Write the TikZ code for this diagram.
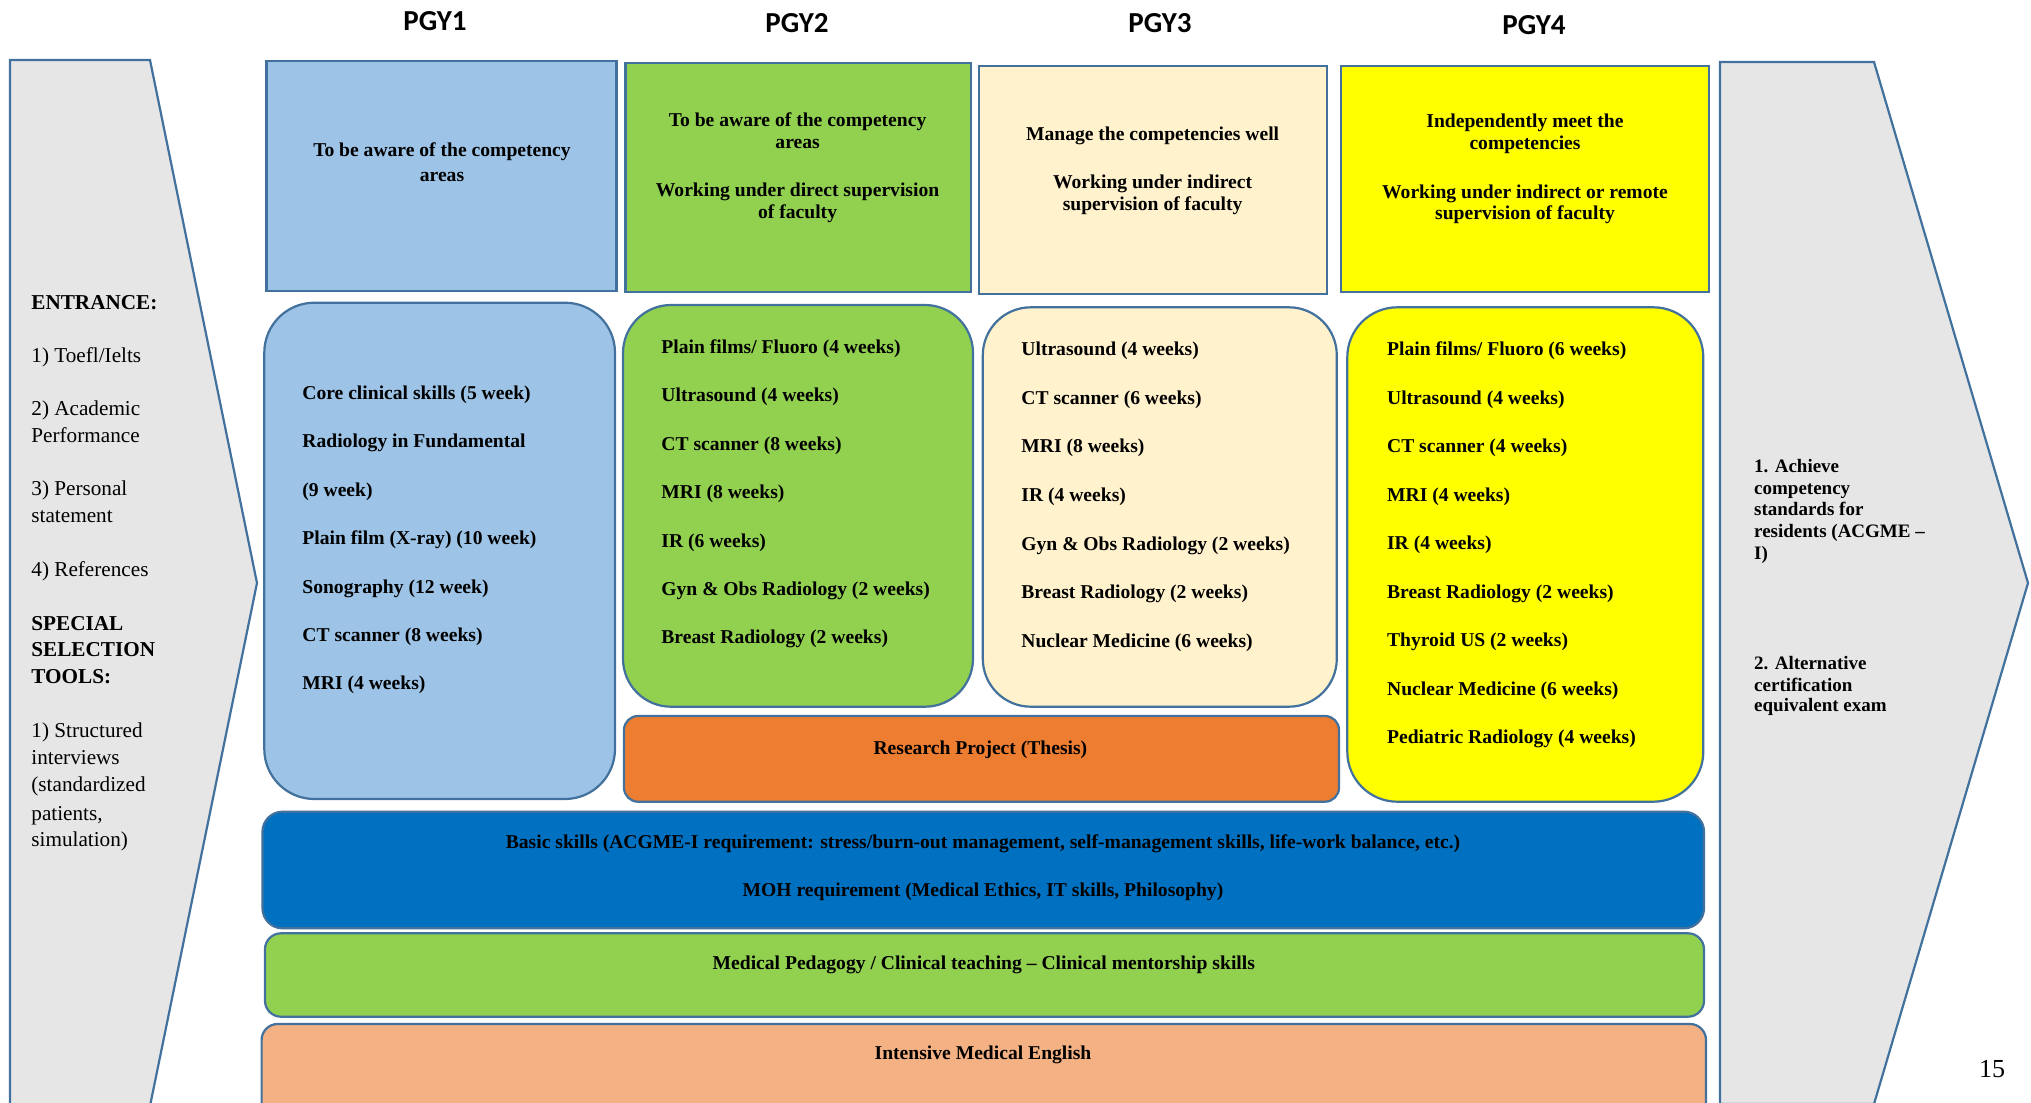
\documentclass[tikz,border=0pt]{standalone}
\usepackage{fontspec}
\setmainfont{Liberation Serif}
\newfontfamily\hdrfont{Carlito}
\usetikzlibrary{fit}
\definecolor{bordc}{HTML}{41719C}
\definecolor{cBlue}{HTML}{9DC3E6}
\definecolor{cGreen}{HTML}{92D050}
\definecolor{cCream}{HTML}{FFF2CC}
\definecolor{cYellow}{HTML}{FFFF00}
\definecolor{cOrange}{HTML}{ED7D31}
\definecolor{cDark}{HTML}{0070C0}
\definecolor{cPeach}{HTML}{F4B183}
\definecolor{cChev}{HTML}{E6E6E6}
\begin{document}
\begin{tikzpicture}[x=0.5pt,y=-0.5pt,
  box/.style={draw=bordc, line width=1.1pt, inner sep=0pt},
  ln/.style={inner sep=0pt, yshift=-1.2pt, text height=7pt, text depth=2pt, font=\fontsize{9.8}{12}\selectfont\bfseries},
  lnl/.style={ln, anchor=west},
  lft/.style={inner sep=0pt, yshift=-1.2pt, anchor=west, text height=7.2pt, text depth=2pt, font=\fontsize{10.6}{13}\selectfont},
  lftb/.style={lft, font=\fontsize{10.6}{13}\selectfont\bfseries},
  rgt/.style={inner sep=0pt, yshift=-1.2pt, anchor=west, text height=6.8pt, text depth=2pt, font=\fontsize{9.5}{11}\selectfont\bfseries},
  hdr/.style={font=\hdrfont\fontsize{14.5}{17}\selectfont\bfseries, inner sep=0pt}]
\useasboundingbox (0,0) rectangle (2031,1103);
\clip (0,0) rectangle (2031,1103);
\fill[white] (0,0) rectangle (2031,1103);

% chevrons
\draw[draw=bordc, line width=1.1pt, fill=cChev] (10,60) -- (150,60) -- (257,583) -- (150,1106) -- (10,1106) -- cycle;
\draw[draw=bordc, line width=1.1pt, fill=cChev] (1720,62) -- (1874,62) -- (2028,583) -- (1874,1104) -- (1720,1104) -- cycle;

% headers
\node[hdr] (h1) at (435,21) {PGY1};
\node[hdr] (h2) at (797,22.7) {PGY2};
\node[hdr] (h3) at (1160,23) {PGY3};
\node[hdr] (h4) at (1534,25) {PGY4};

% top boxes
\node[box, fill=cBlue, fit={(266.5,61.3)(616.5,290.7)}] (t1) {};
\node[box, fill=cGreen, fit={(625.4,62.7)(970.8,291.7)}] (t2) {};
\node[box, fill=cCream, fit={(979,65.7)(1327,294)}] (t3) {};
\node[box, fill=cYellow, fit={(1341.3,65.7)(1709,292.3)}] (t4) {};

% rounded column boxes
\node[box, fill=cBlue, rounded corners=25pt, fit={(264.3,302.7)(615,799)}] (r1) {};
\node[box, fill=cGreen, rounded corners=24pt, fit={(623,305)(973,706.7)}] (r2) {};
\node[box, fill=cCream, rounded corners=24pt, fit={(982.8,307.3)(1336.8,706.7)}] (r3) {};
\node[box, fill=cYellow, rounded corners=25pt, fit={(1347.3,307.3)(1703.3,801.7)}] (r4) {};
\node[box, fill=cOrange, rounded corners=7pt, fit={(624,716)(1339,801.7)}] (res) {};
\node[box, fill=cDark, rounded corners=10pt, fit={(262.5,811.7)(1704,928.3)}] (bas) {};
\node[box, fill=cGreen, rounded corners=8pt, fit={(265,933.3)(1704,1016.7)}] (ped) {};
\node[box, fill=cPeach, rounded corners=8pt, fit={(261.6,1024)(1706,1140)}] (eng) {};

% top box texts
\node[ln] (t1a) at (442,149.3) {To be aware of the competency};
\node[ln] (t1b) at (442,174.3) {areas};
\node[ln] (t2a) at (797.6,119) {To be aware of the competency};
\node[ln] (t2b) at (797.6,141) {areas};
\node[ln] (t2c) at (797.6,189) {Working under direct supervision};
\node[ln] (t2d) at (797.6,211) {of faculty};
\node[ln] (t3a) at (1152.6,132.7) {Manage the competencies well};
\node[ln] (t3b) at (1152.6,181) {Working under indirect};
\node[ln] (t3c) at (1152.6,202.7) {supervision of faculty};
\node[ln] (t4a) at (1525,120) {Independently meet the};
\node[ln] (t4b) at (1525,142.3) {competencies};
\node[ln] (t4c) at (1525,191) {Working under indirect or remote};
\node[ln] (t4d) at (1525,212) {supervision of faculty};

% column items
\foreach \t [count=\i from 0] in {{Core clinical skills (5 week)},{Radiology in Fundamental},{(9 week)},{Plain film (X-ray) (10 week)},{Sonography (12 week)},{CT scanner (8 weeks)},{MRI (4 weeks)}}
  \node[lnl] (a\i) at (302,{392+48.4*\i}) {\t};
\foreach \t [count=\i from 0] in {{Plain films/ Fluoro (4 weeks)},{Ultrasound (4 weeks)},{CT scanner (8 weeks)},{MRI (8 weeks)},{IR (6 weeks)},{Gyn \& Obs Radiology (2 weeks)},{Breast Radiology (2 weeks)}}
  \node[lnl] (b\i) at (661,{346+48.4*\i}) {\t};
\foreach \t [count=\i from 0] in {{Ultrasound (4 weeks)},{CT scanner (6 weeks)},{MRI (8 weeks)},{IR (4 weeks)},{Gyn \& Obs Radiology (2 weeks)},{Breast Radiology (2 weeks)},{Nuclear Medicine (6 weeks)}}
  \node[lnl] (c\i) at (1021,{348.3+48.6*\i}) {\t};
\foreach \t [count=\i from 0] in {{Plain films/ Fluoro (6 weeks)},{Ultrasound (4 weeks)},{CT scanner (4 weeks)},{MRI (4 weeks)},{IR (4 weeks)},{Breast Radiology (2 weeks)},{Thyroid US (2 weeks)},{Nuclear Medicine (6 weeks)},{Pediatric Radiology (4 weeks)}}
  \node[lnl] (d\i) at (1386.7,{348.3+48.5*\i}) {\t};

% band texts
\node[ln] (resT) at (980.4,746.7) {Research Project (Thesis)};
\node[ln] (basA) at (983,840.6) {Basic skills (ACGME-I requirement: stress/burn-out management, self-management skills, life-work balance, etc.)};
\node[ln] (basB) at (983,888.6) {MOH requirement (Medical Ethics, IT skills, Philosophy)};
\node[ln] (pedT) at (983.8,962.4) {Medical Pedagogy / Clinical teaching -- Clinical mentorship skills};
\node[ln] (engT) at (983,1051.8) {Intensive Medical English};

% left texts
\node[lftb] (l1) at (31,301.7) {ENTRANCE:};
\node[lft] (l2) at (31,355) {1) Toefl/Ielts};
\node[lft] (l3) at (31,408.3) {2) Academic};
\node[lft] (l4) at (31,435) {Performance};
\node[lft] (l5) at (31,488.3) {3) Personal};
\node[lft] (l6) at (31,515) {statement};
\node[lft] (l7) at (31,569.3) {4) References};
\node[lftb] (l8) at (31,622.7) {SPECIAL};
\node[lftb] (l9) at (31,649.3) {SELECTION};
\node[lftb] (l10) at (31,676) {TOOLS:};
\node[lft] (l11) at (31,730) {1) Structured};
\node[lft] (l12) at (31,757.3) {interviews};
\node[lft] (l13) at (31,784) {(standardized};
\node[lft] (l14) at (31,812.7) {patients,};
\node[lft] (l15) at (31,839.3) {simulation)};

% right texts
\node[rgt] (o1) at (1753.8,465) {1. Achieve};
\node[rgt] (o2) at (1753.8,487) {competency};
\node[rgt] (o3) at (1753.8,507.8) {standards for};
\node[rgt] (o4) at (1753.8,529.8) {residents (ACGME --};
\node[rgt] (o5) at (1753.8,551.8) {I)};
\node[rgt] (o6) at (1753.8,662) {2. Alternative};
\node[rgt] (o7) at (1753.8,684) {certification};
\node[rgt] (o8) at (1753.8,704.6) {equivalent exam};

\node[inner sep=0pt, font=\fontsize{13}{15}\selectfont] (pg) at (1992,1068.6) {15};
\end{tikzpicture}
\end{document}
